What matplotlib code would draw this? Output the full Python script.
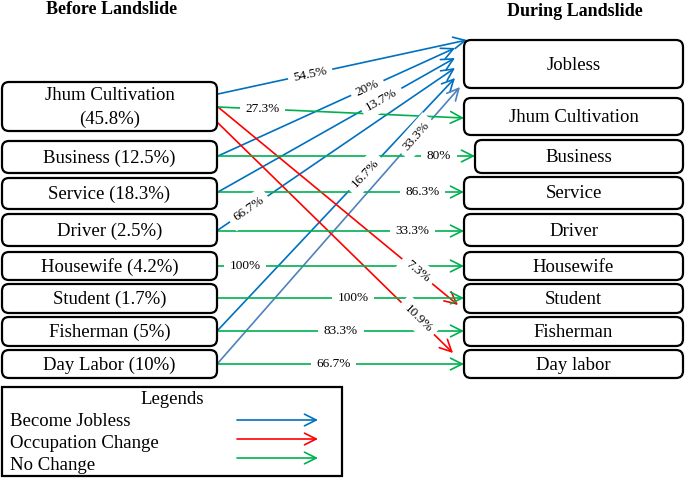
import numpy as np
import matplotlib
matplotlib.use("Agg")
import matplotlib.pyplot as plt
from matplotlib.patches import FancyBboxPatch, FancyArrowPatch

plt.rcParams['font.family'] = ['Liberation Serif', 'DejaVu Serif']

# data
left_labels = ["Jhum Cultivation\n(45.8%)", "Business (12.5%)", "Service (18.3%)",
               "Driver (2.5%)", "Housewife (4.2%)", "Student (1.7%)",
               "Fisherman (5%)", "Day Labor (10%)"]
right_labels = ["Jobless", "Jhum Cultivation", "Business", "Service", "Driver",
                "Housewife", "Student", "Fisherman", "Day labor"]
# flows: source (left idx), target (right idx), percentage, kind
flow_src = [0, 1, 2, 3, 6, 7, 0, 0, 0, 1, 2, 3, 4, 5, 6, 7]
flow_dst = [0, 0, 0, 0, 0, 0, 6, 8, 1, 2, 3, 4, 5, 6, 7, 8]
flow_pct = ["54.5%", "20%", "13.7%", "66.7%", "16.7%", "33.3%", "7.3%", "10.9%",
            "27.3%", "80%", "86.3%", "33.3%", "100%", "100%", "83.3%", "66.7%"]
flow_kind = ["jobless"] * 5 + ["jobless2"] + ["change"] * 2 + ["same"] * 8
legend_items = ["Become Jobless", "Occupation Change", "No Change"]

# layout (pixel space)
left_y = [(82, 131), (141, 173), (178, 209), (214, 246), (252, 280),
          (284, 313), (317, 346), (350, 378)]
right_y = [(40, 88), (98, 135), (140, 173), (177, 209), (214, 246),
           (252, 280), (284, 313), (317, 346), (350, 378)]
left_x = (2, 217)
right_x = [(464, 683)] * 9
right_x[2] = (475, 683)

colors = {"jobless": "#0070C0", "jobless2": "#4F81BD",
          "change": "#FF0000", "same": "#00B050"}

# per-flow anchor tweaks: start y offset within source box, end point on target
start_dy = [12, 15, 14, 16, 13, 13, 25, 41, 25, 15, 14, 17, 14, 14, 14, 14]
end_pt = [(467, 40), (455, 48), (455, 58), (455, 68), (455, 78), (460, 87),
          (458, 305), (453, 353), (464, 118), (475, 156), (464, 192),
          (464, 231), (464, 266), (464, 298), (464, 331), (464, 364)]
label_t = [0.37, 0.63, 0.69, 0.13, 0.62, 0.82, 0.83, 0.85,
           0.18, 0.86, 0.83, 0.79, 0.11, 0.55, 0.50, 0.47]

fig = plt.figure(figsize=(6.85, 4.78), dpi=100)
ax = fig.add_axes([0, 0, 1, 1])
ax.set_xlim(0, 685)
ax.set_ylim(478, 0)
ax.axis('off')


def box(x0, x1, y0, y1, text, fs=13.5):
    p = FancyBboxPatch((x0, y0), x1 - x0, y1 - y0,
                       boxstyle="round,pad=0,rounding_size=7",
                       fc="white", ec="black", lw=1.6, zorder=3)
    ax.add_patch(p)
    ax.text((x0 + x1) / 2, (y0 + y1) / 2 + 1, text, ha='center', va='center',
            fontsize=fs, zorder=4, linespacing=1.45)


for lab, (y0, y1) in zip(left_labels, left_y):
    box(left_x[0], left_x[1], y0, y1, lab)
for lab, (x0, x1), (y0, y1) in zip(right_labels, right_x, right_y):
    box(x0, x1, y0, y1, lab)

ax.text(112, 9, "Before Landslide", ha='center', va='center',
        fontsize=13, fontweight='bold')
ax.text(575, 11, "During Landslide", ha='center', va='center',
        fontsize=13, fontweight='bold')

for i in range(len(flow_src)):
    s = flow_src[i]
    x0 = left_x[1] + 1
    y0 = left_y[s][0] + start_dy[i]
    x1, y1 = end_pt[i]
    c = colors[flow_kind[i]]
    arr = FancyArrowPatch((x0, y0), (x1, y1),
                          arrowstyle="->,head_length=0.7,head_width=0.35",
                          mutation_scale=12, color=c, lw=1.2,
                          shrinkA=0, shrinkB=0, zorder=1)
    ax.add_patch(arr)
    t = label_t[i]
    lx = x0 + t * (x1 - x0)
    ly = y0 + t * (y1 - y0)
    ang = np.degrees(np.arctan2(-(y1 - y0), x1 - x0))
    if abs(ang) < 3:
        ang = 0
    ax.text(lx, ly, flow_pct[i], ha='center', va='center', fontsize=9.5,
            rotation=ang, rotation_mode='anchor', zorder=2,
            bbox=dict(fc='white', ec='none', pad=4))

# legend
ax.add_patch(plt.Rectangle((2, 387), 340, 89, fc='white', ec='black', lw=1.6))
ax.text(172, 399, "Legends", ha='center', va='center', fontsize=13.5)
leg_kinds = ["jobless", "change", "same"]
for k, (lab, kind) in enumerate(zip(legend_items, leg_kinds)):
    yy = 422 + k * 21.5
    ax.text(10, yy, lab, ha='left', va='center', fontsize=13.5)
    ay = 420 + k * 19
    ax.add_patch(FancyArrowPatch((237, ay), (318, ay),
                                 arrowstyle="->,head_length=0.7,head_width=0.35",
                                 mutation_scale=12, color=colors[kind], lw=1.2,
                                 shrinkA=0, shrinkB=0))

fig.savefig("out.png", dpi=100)
